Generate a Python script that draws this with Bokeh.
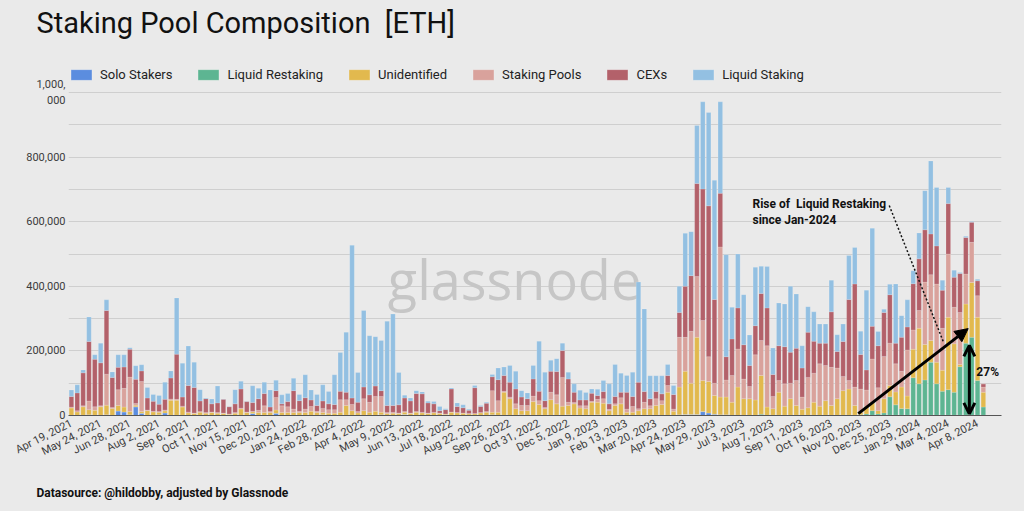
import numpy as np
from bokeh.plotting import figure
from bokeh.layouts import column
from bokeh.models import (ColumnDataSource, Range1d, FixedTicker, NumeralTickFormatter,
                          Label, Legend, LegendItem, Arrow, NormalHead, OpenHead)
from bokeh.embed import file_html
from bokeh.resources import INLINE

# ---------------- data (thousand ETH per week, Apr 19 2021 -> Apr 15 2024) ----------------
series_names = ["Solo Stakers", "Liquid Restaking", "Unidentified", "Staking Pools", "CEXs", "Liquid Staking"]
series_colors = ["#5b8ddf", "#5db592", "#e2b94e", "#d9a29c", "#b3616a", "#93c0e2"]

solo = [1, 1, 1, 2, 1, 1, 2, 1, 14, 11, 2, 27, 7, 1, 1, 2, 8, 1, 1, 1,
        1, 1, 1, 1, 1, 1, 1, 1, 1, 1, 1, 6, 1, 1, 1, 7, 1, 1, 1, 1,
        1, 1, 1, 2, 1, 1, 1, 1, 1, 1, 1, 1, 1, 2, 1, 1, 1, 3, 1, 1,
        1, 1, 1, 1, 1, 1, 1, 1, 1, 1, 1, 1, 2, 1, 1, 1, 1, 2, 1, 1,
        1, 1, 1, 1, 1, 2, 1, 1, 1, 1, 2, 1, 1, 1, 1, 1, 1, 1, 1, 1,
        1, 1, 1, 1, 2, 3, 3, 3, 12, 8, 4, 2, 2, 1, 1, 1, 1, 1, 1, 1,
        1, 1, 1, 1, 1, 1, 1, 1, 1, 1, 1, 1, 1, 1, 1, 1, 1, 1, 1, 1,
        1, 1, 1, 1, 1, 1, 1, 1, 1, 1, 1, 1, 1, 1, 1, 1, 1]
liquid_restaking = [0] * 118 + [3, 0, 0, 0, 0, 0, 0, 0, 0, 0, 0, 0, 0, 0, 0, 0, 0,
                                1, 4, 14, 4, 7, 57, 32, 21, 20, 116, 97, 109, 164, 97, 74,
                                79, 71, 150, 223, 241, 107, 25]
unidentified = [22, 10, 26, 16, 15, 26, 30, 21, 17, 15, 10, 5, 5, 14, 10, 8, 6, 46, 46, 25,
                7, 5, 9, 6, 8, 6, 5, 3, 6, 19, 8, 5, 8, 8, 8, 10, 8, 8, 8, 8,
                8, 12, 8, 7, 6, 6, 9, 30, 14, 7, 14, 9, 12, 8, 5, 6, 5, 7, 5, 9,
                7, 5, 7, 5, 3, 9, 7, 6, 4, 4, 7, 9, 8, 9, 71, 51, 20, 13, 14, 42,
                33, 20, 48, 35, 28, 29, 35, 22, 20, 40, 39, 37, 14, 30, 35, 9, 9, 14, 20, 20,
                30, 33, 71, 12, 86, 134, 97, 239, 96, 97, 58, 55, 55, 40, 87, 51, 51, 47, 120, 25,
                20, 71, 28, 51, 30, 18, 23, 40, 28, 45, 30, 51, 76, 81, 30, 8, 23, 26, 10, 44,
                35, 40, 66, 39, 88, 172, 110, 67, 67, 65, 224, 150, 7, 121, 170, 196, 46]
staking_pools = [3, 4, 3, 27, 11, 3, 96, 3, 49, 58, 107, 5, 93, 2, 2, 2, 3, 4, 3, 3,
                 3, 2, 2, 2, 2, 2, 2, 1, 2, 3, 2, 2, 7, 21, 3, 39, 21, 18, 11, 4,
                 11, 15, 4, 13, 11, 11, 39, 18, 19, 4, 37, 31, 46, 49, 3, 3, 2, 2, 2, 2,
                 2, 2, 2, 2, 1, 1, 1, 1, 1, 1, 1, 2, 67, 36, 3, 5, 15, 16, 16, 17,
                 12, 4, 23, 28, 89, 10, 4, 7, 9, 3, 9, 14, 4, 5, 19, 10, 18, 6, 20, 9,
                 21, 12, 21, 7, 154, 105, 161, 188, 186, 77, 38, 465, 53, 83, 118, 61, 38, 140, 108, 190,
                 38, 36, 69, 48, 77, 38, 94, 90, 131, 109, 118, 95, 44, 26, 57, 72, 51, 134, 71, 131,
                 131, 87, 49, 143, 60, 55, 193, 204, 242, 130, 196, 113, 161, 93, 124, 67, 16]
cexs = [33, 55, 102, 184, 147, 133, 197, 93, 69, 66, 86, 75, 33, 37, 31, 23, 33, 65, 140, 28,
        82, 79, 33, 43, 25, 30, 42, 22, 27, 59, 32, 27, 36, 38, 14, 21, 6, 16, 57, 33,
        35, 20, 18, 23, 18, 16, 26, 23, 20, 29, 36, 23, 32, 18, 22, 21, 25, 42, 37, 56,
        57, 31, 26, 7, 13, 71, 19, 16, 10, 80, 19, 26, 43, 65, 49, 46, 46, 26, 21, 53,
        29, 21, 65, 72, 83, 72, 32, 18, 18, 25, 12, 22, 17, 23, 17, 52, 31, 82, 33, 22,
        22, 21, 31, 45, 77, 158, 172, 288, 407, 467, 259, 166, 72, 113, 127, 106, 65, 90, 146, 117,
        68, 108, 115, 96, 100, 90, 140, 99, 64, 69, 172, 51, 108, 251, 319, 107, 62, 101, 130, 136,
        150, 64, 105, 71, 143, 160, 162, 126, 118, 118, 156, 93, 121, 113, 62, 46, 10]
liquid_staking = [20, 25, 9, 76, 14, 61, 33, 17, 39, 38, 5, 42, 19, 33, 21, 27, 53, 22, 174, 105,
                  122, 78, 35, 2, 15, 52, 1, 1, 44, 24, 1, 52, 32, 35, 53, 32, 28, 25, 38, 19,
                  71, 31, 34, 50, 38, 92, 120, 186, 473, 92, 237, 183, 153, 155, 261, 283, 100, 9, 9, 9,
                  6, 5, 7, 13, 3, 3, 11, 9, 3, 7, 3, 3, 7, 36, 26, 52, 55, 20, 18, 42,
                  155, 88, 34, 40, 23, 21, 26, 30, 23, 13, 19, 34, 62, 99, 59, 52, 75, 310, 256, 71,
                  49, 56, 34, 28, 81, 164, 136, 180, 270, 289, 369, 283, 316, 98, 167, 155, 94, 181, 84, 128,
                  82, 132, 132, 204, 168, 69, 79, 91, 59, 59, 98, 52, 54, 136, 113, 72, 247, 304, 44, 10,
                  32, 183, 67, 84, 40, 80, 121, 226, 181, 31, 50, 22, 3, 4, 3, 5, 0]

tick_labels = ["Apr 19, 2021", "May 24, 2021", "Jun 28, 2021", "Aug 2, 2021", "Sep 6, 2021",
               "Oct 11, 2021", "Nov 15, 2021", "Dec 20, 2021", "Jan 24, 2022", "Feb 28, 2022",
               "Apr 4, 2022", "May 9, 2022", "Jun 13, 2022", "Jul 18, 2022", "Aug 22, 2022",
               "Sep 26, 2022", "Oct 31, 2022", "Dec 5, 2022", "Jan 9, 2023", "Feb 13, 2023",
               "Mar 20, 2023", "Apr 24, 2023", "May 29, 2023", "Jul 3, 2023", "Aug 7, 2023",
               "Sep 11, 2023", "Oct 16, 2023", "Nov 20, 2023", "Dec 25, 2023", "Jan 29, 2024",
               "Mar 4, 2024", "Apr 8, 2024"]

title_text = "Staking Pool Composition \u00a0[ETH]"
footer_text = "Datasource: @hildobby, adjusted by Glassnode"

# ---------------- build ----------------
BG = "#eaeaea"
FONT = "Roboto"
W = 1024
TOP_H, MAIN_H, BOT_H = 52, 424, 35
keys = ["solo", "lrt", "unid", "pools", "cex", "lst"]
arrays = [solo, liquid_restaking, unidentified, staking_pools, cexs, liquid_staking]
n = len(solo)
data = {"x": list(range(n))}
for k, arr in zip(keys, arrays):
    data[k] = [v * 1000 for v in arr]
src = ColumnDataSource(data)


def text_strip(h):
    f = figure(width=W, height=h, x_range=Range1d(0, W), y_range=Range1d(0, h),
               x_axis_type=None, y_axis_type=None, output_backend="svg", toolbar_location=None,
               min_border_left=0, min_border_right=0, min_border_top=0, min_border_bottom=0,
               background_fill_color=BG, border_fill_color=BG, outline_line_color=None)
    f.frame_align = False
    return f


# title strip
top = text_strip(TOP_H)
top.add_layout(Label(x=36, y=TOP_H - 22, text=title_text, text_baseline="middle",
                     text_font=FONT, text_font_size="29px", text_color="#111111"))

# main chart: frame from y=52 to y=415 (1,000,000 gridline at y=92)
y_top = 1_000_000 * (415 - TOP_H) / 323.0
p = figure(width=W, height=MAIN_H, x_range=Range1d(-0.5, 159.1), y_range=Range1d(0, y_top),
           output_backend="svg", toolbar_location=None,
           min_border_left=68, min_border_right=23, min_border_top=0, min_border_bottom=MAIN_H - (415 - TOP_H),
           background_fill_color=BG, border_fill_color=BG, outline_line_color=None)
p.frame_align = False

renderers = p.vbar_stack(keys, x="x", width=0.78, color=series_colors, source=src,
                         line_color="white", line_alpha=0.3, line_width=0.5)

p.xgrid.grid_line_color = None
p.ygrid.ticker = FixedTicker(ticks=list(range(0, 1_000_001, 100_000)))
p.ygrid.grid_line_color = "#cfcfcf"
p.ygrid.grid_line_width = 1

p.yaxis.ticker = FixedTicker(ticks=list(range(0, 1_000_001, 200_000)))
p.yaxis.formatter = NumeralTickFormatter(format="0,0")
p.yaxis.major_label_overrides = {1_000_000: "1,000,\n000"}
p.yaxis.axis_line_color = None
p.yaxis.major_tick_line_color = None
p.yaxis.minor_tick_line_color = None
p.yaxis.major_tick_out = 0
p.yaxis.major_label_standoff = 3
p.yaxis.major_label_text_font = FONT
p.yaxis.major_label_text_font_size = "11px"
p.yaxis.major_label_text_color = "#3c3c3c"

tick_pos = list(range(0, 5 * len(tick_labels), 5))
p.xaxis.ticker = FixedTicker(ticks=tick_pos)
p.xaxis.major_label_overrides = {t: s for t, s in zip(tick_pos, tick_labels)}
p.xaxis.major_label_orientation = 0.47
p.xaxis.axis_line_color = "#555555"
p.xaxis.major_tick_line_color = None
p.xaxis.minor_tick_line_color = None
p.xaxis.major_tick_out = 0
p.xaxis.major_label_standoff = 7
p.xaxis.major_label_text_font = FONT
p.xaxis.major_label_text_font_size = "11px"
p.xaxis.major_label_text_color = "#3c3c3c"

legend = Legend(items=[LegendItem(label=nm, renderers=[r]) for nm, r in zip(series_names, renderers)],
                orientation="horizontal", location=(0, 333),
                background_fill_alpha=0, border_line_color=None, padding=0, margin=0,
                spacing=23, glyph_width=26, glyph_height=13, label_standoff=6,
                label_text_font=FONT, label_text_font_size="13px", label_text_color="#222222")
p.add_layout(legend, "center")

# watermark
p.add_layout(Label(x=75.8, y=424_000, text="glassnode", text_align="center", text_baseline="alphabetic",
                   text_font="Open Sans", text_font_size="54px", text_color="#c6c6c6", level="underlay"))

# annotation
p.add_layout(Label(x=116.5, y=678_000, text="Rise of \u00a0Liquid Restaking\nsince Jan-2024",
                   text_baseline="top", text_font=FONT, text_font_size="12px",
                   text_font_style="bold", text_color="#111111", text_line_height=1.15))
p.segment(x0=[139.9], y0=[650_000], x1=[149.2], y1=[226_000], line_color="#111111",
          line_width=1.5, line_dash="2 2")
p.add_layout(Arrow(end=NormalHead(size=13, fill_color="black", line_color="black"),
                   x_start=134.6, y_start=6_000, x_end=153.4, y_end=269_000,
                   line_color="black", line_width=3))
p.add_layout(Arrow(start=OpenHead(size=11, line_color="black", line_width=3),
                   end=OpenHead(size=11, line_color="black", line_width=3),
                   x_start=153.6, y_start=5_000, x_end=153.6, y_end=217_000,
                   line_color="black", line_width=3))
p.add_layout(Label(x=154.8, y=136_000, text="27%", text_baseline="middle", text_font=FONT,
                   text_font_size="12px", text_font_style="bold", text_color="#111111"))

# footer strip
bot = text_strip(BOT_H)
bot.add_layout(Label(x=36, y=511 - 492, text=footer_text, text_baseline="middle", text_font=FONT,
                     text_font_size="12px", text_font_style="bold", text_color="#111111"))

layout = column(top, p, bot, spacing=0)
html = file_html(layout, INLINE)
html = html.replace("<head>", "<head><style>html, body { background: #eaeaea; }</style>", 1)
open("out.html", "w").write(html)
